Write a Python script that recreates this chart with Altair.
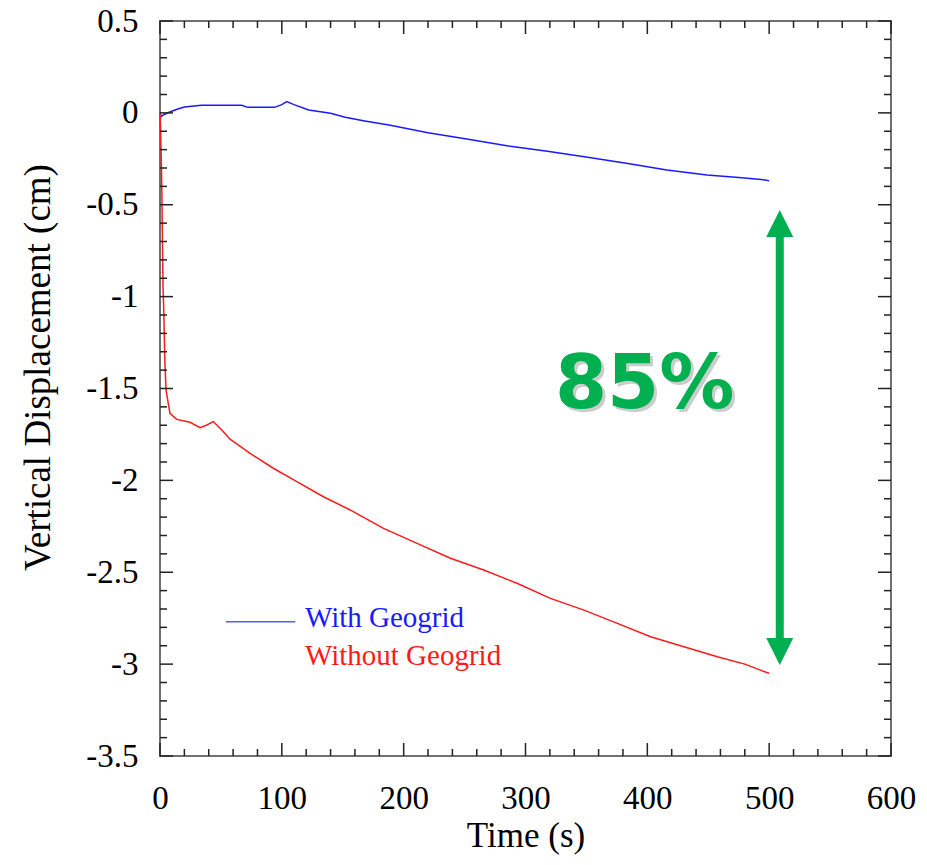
import altair as alt
import pandas as pd

# ---- data ----
blue_t = [0, 1, 3, 8, 14, 20, 34, 67, 72, 94, 100, 104, 110, 122, 140, 152, 168, 188, 220, 253, 286, 318, 351, 384, 416, 449, 475, 497, 500]
blue_v = [0, -0.02, -0.01, 0.005, 0.02, 0.032, 0.041, 0.041, 0.03, 0.03, 0.045, 0.061, 0.045, 0.016, -0.002, -0.024, -0.044, -0.066, -0.108, -0.144, -0.18, -0.209, -0.242, -0.275, -0.311, -0.338, -0.352, -0.365, -0.37]

red_t = [0, 0.5, 1, 1.5, 2, 2.5, 3, 4, 5, 6.5, 8.2, 13.7, 24.7, 32.9, 38, 43.8, 50.7, 57.5, 74, 93, 112.3, 134.2, 156, 183.5, 211, 238.4, 265.7, 293, 320.5, 348, 375.4, 402.7, 430, 457.5, 480, 498.6, 500]
red_v = [0, -0.1, -0.24, -0.42, -0.7, -0.95, -1.05, -1.36, -1.51, -1.57, -1.635, -1.668, -1.684, -1.713, -1.70, -1.68, -1.726, -1.776, -1.853, -1.934, -2.007, -2.089, -2.161, -2.261, -2.343, -2.424, -2.488, -2.56, -2.642, -2.706, -2.778, -2.851, -2.905, -2.96, -3.0, -3.047, -3.05]

x_major = [0, 100, 200, 300, 400, 500, 600]
x_minor = [t for t in range(0, 601, 20) if t % 100 != 0]
y_major = [0.5, 0, -0.5, -1, -1.5, -2, -2.5, -3, -3.5]
y_minor = [round(-3.5 + 0.1 * i, 1) for i in range(41) if (i % 5) != 0]

legend_labels = ["With Geogrid", "Without Geogrid"]
legend_colors = ["#1a1aff", "#ff1a1a"]
legend_text_t = [119, 119]
legend_text_v = [-2.80, -3.005]
legend_line_t = [54, 111]
legend_line_v = [-2.769, -2.769]

arrow_t = [508.7]
arrow_shaft = [-0.65, -2.88]
arrow_up_v = [-0.602]
arrow_down_v = [-2.931]
pct_label = ["85%"]
pct_t = [397.8]
pct_v = [-1.606]

W, H = 731, 735
FONT = "Liberation Serif"

xs = alt.Scale(domain=[0, 600], nice=False, zero=False)
ys = alt.Scale(domain=[-3.5, 0.5], nice=False, zero=False)

df_blue = pd.DataFrame({"t": blue_t, "v": blue_v})
df_red = pd.DataFrame({"t": red_t, "v": red_v})

base_x_axis = alt.Axis(values=x_major, title="Time (s)", grid=False, ticks=False, tickSize=0,
                       domain=False, labelPadding=26, labelFlush=False, labelOverlap=False,
                       titlePadding=3)
base_y_axis = alt.Axis(values=y_major, title="Vertical Displacement (cm)", grid=False, ticks=False,
                       tickSize=0, domain=False, labelPadding=22, labelFlush=False,
                       labelOverlap=False, labelExpr="'' + datum.value",
                       titleFontSize=37, titleBaseline="middle", titleX=-122, titleY=346)

blue = alt.Chart(df_blue).mark_line(color="#1a1aff", strokeWidth=1.5).encode(
    x=alt.X("t:Q", scale=xs, axis=base_x_axis),
    y=alt.Y("v:Q", scale=ys, axis=base_y_axis),
)
red = alt.Chart(df_red).mark_line(color="#ff1a1a", strokeWidth=1.5).encode(
    x=alt.X("t:Q", scale=xs),
    y=alt.Y("v:Q", scale=ys),
)

def xticks(vals, y0, y1):
    return alt.Chart(pd.DataFrame({"t": vals})).mark_rule(color="#222", strokeWidth=1.5).encode(
        x=alt.X("t:Q", scale=xs), y=alt.value(y0), y2=alt.value(y1))

def yticks(vals, x0, x1):
    return alt.Chart(pd.DataFrame({"v": vals})).mark_rule(color="#222", strokeWidth=1.5).encode(
        y=alt.Y("v:Q", scale=ys), x=alt.value(x0), x2=alt.value(x1))

ticks = [
    xticks(x_major, H, H - 13), xticks(x_minor, H, H - 7),
    xticks(x_major, 0, 13), xticks(x_minor, 0, 7),
    yticks(y_major, 0, 13), yticks(y_minor, 0, 7),
    yticks(y_major, W, W - 13), yticks(y_minor, W, W - 7),
]

df_leg_line = pd.DataFrame({"t": legend_line_t, "v": legend_line_v})
leg_line = alt.Chart(df_leg_line).mark_line(color="#5a5aff", strokeWidth=1.4).encode(
    x=alt.X("t:Q", scale=xs), y=alt.Y("v:Q", scale=ys))
df_leg_text = pd.DataFrame({"label": legend_labels, "color": legend_colors,
                            "t": legend_text_t, "v": legend_text_v})
leg_text = alt.Chart(df_leg_text).mark_text(font=FONT, fontSize=29, align="left",
                                            baseline="alphabetic").encode(
    x=alt.X("t:Q", scale=xs), y=alt.Y("v:Q", scale=ys), text="label:N",
    color=alt.Color("color:N", scale=None))

GREEN = "#00b050"
df_shaft = pd.DataFrame({"t": arrow_t * 2, "v": arrow_shaft})
shaft = alt.Chart(df_shaft).mark_line(color=GREEN, strokeWidth=8).encode(
    x=alt.X("t:Q", scale=xs), y=alt.Y("v:Q", scale=ys))
head_up = alt.Chart(pd.DataFrame({"t": arrow_t, "v": arrow_up_v})).mark_point(
    shape="M0,-1L1,1L-1,1Z", size=729, filled=True, color=GREEN, opacity=1, strokeWidth=0).encode(
    x=alt.X("t:Q", scale=xs), y=alt.Y("v:Q", scale=ys))
head_down = alt.Chart(pd.DataFrame({"t": arrow_t, "v": arrow_down_v})).mark_point(
    shape="M0,1L1,-1L-1,-1Z", size=729, filled=True, color=GREEN, opacity=1, strokeWidth=0).encode(
    x=alt.X("t:Q", scale=xs), y=alt.Y("v:Q", scale=ys))

df_pct = pd.DataFrame({"label": pct_label, "t": pct_t, "v": pct_v})
pct_shadow = alt.Chart(df_pct).mark_text(font="DejaVu Sans", fontWeight="bold", fontSize=75,
                                         color="#9a9a9a", opacity=0.5, dx=3, dy=3,
                                         align="center", baseline="alphabetic").encode(
    x=alt.X("t:Q", scale=xs), y=alt.Y("v:Q", scale=ys), text="label:N")
pct = alt.Chart(df_pct).mark_text(font="DejaVu Sans", fontWeight="bold", fontSize=75,
                                  color=GREEN, align="center", baseline="alphabetic").encode(
    x=alt.X("t:Q", scale=xs), y=alt.Y("v:Q", scale=ys), text="label:N")

chart = alt.layer(
    blue, red, *ticks, leg_line, leg_text, shaft, head_up, head_down, pct_shadow, pct
).properties(
    width=W, height=H,
    autosize=alt.AutoSizeParams(type="none"),
    padding={"left": 160, "top": 21, "right": 36, "bottom": 109},
    background="white",
).configure_view(stroke="#707070", strokeWidth=2).configure_axis(
    labelFont=FONT, labelFontSize=33, labelColor="black",
    titleFont=FONT, titleFontSize=35, titleFontWeight="normal", titleColor="black",
)

chart.save("out.html", embed_options={"renderer": "svg", "actions": False})
